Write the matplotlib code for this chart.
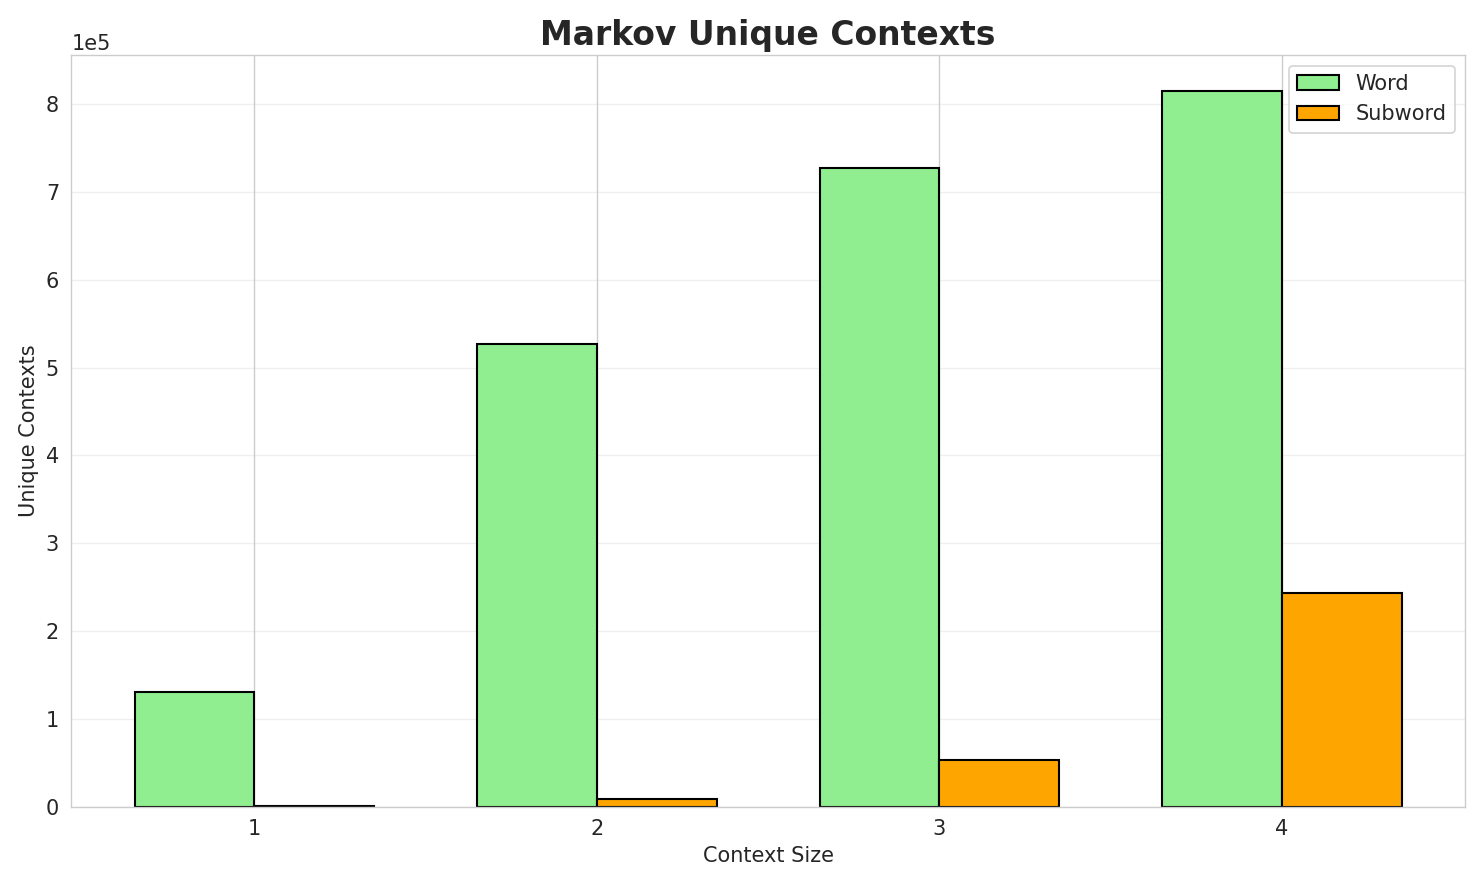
import numpy as np
import matplotlib
matplotlib.use("Agg")
import matplotlib.pyplot as plt
import seaborn as sns

sns.set_style("whitegrid")

# Markov context sizes and number of unique contexts
context_sizes = [1, 2, 3, 4]
word_contexts = [130500, 526500, 727000, 814500]
subword_contexts = [1500, 9700, 53500, 243500]

x = np.arange(len(context_sizes))
width = 0.35

fig, ax = plt.subplots(figsize=(11.872, 7.08), dpi=125)
ax.bar(x - width / 2, word_contexts, width, label='Word',
       color='lightgreen', edgecolor='black', linewidth=1.2)
ax.bar(x + width / 2, subword_contexts, width, label='Subword',
       color='orange', edgecolor='black', linewidth=1.2)

ax.set_xticks(x)
ax.set_xticklabels([str(c) for c in context_sizes], fontsize=12)
ax.tick_params(axis='y', labelsize=12)
ax.ticklabel_format(axis='y', style='sci', scilimits=(0, 0))
ax.yaxis.get_offset_text().set_fontsize(12)
ax.set_xlabel('Context Size', fontsize=12)
ax.set_ylabel('Unique Contexts', fontsize=12)
ax.set_title('Markov Unique Contexts', fontsize=19, fontweight='bold')
ax.legend(fontsize=12)
ax.grid(axis='y', alpha=0.3)

plt.tight_layout()
plt.savefig('out.png')
